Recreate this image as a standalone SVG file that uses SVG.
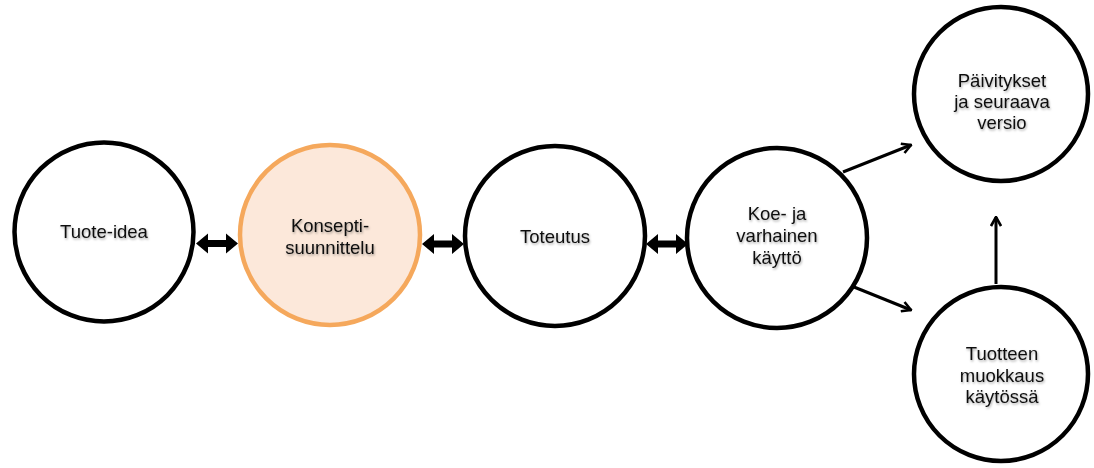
<svg xmlns="http://www.w3.org/2000/svg" width="1094" height="468" viewBox="0 0 1094 468">
<style>
.node{fill:#ffffff;stroke:#000000;stroke-width:4.5}
.hl{fill:#fce8da;stroke:#f5a85c;stroke-width:4.5}
.lbl{font-family:"Liberation Sans",Arial,sans-serif;font-size:18.5px;fill:#111111;text-anchor:middle;filter:url(#ts)}
.conn{stroke:#000000;stroke-width:3;fill:none}
.dbl{fill:#000000}
</style>
<defs>
<filter id="ts" x="-10%" y="-20%" width="120%" height="150%">
<feDropShadow dx="0.8" dy="1.5" stdDeviation="1" flood-color="#000000" flood-opacity="0.35"/>
</filter>
<marker id="ah" viewBox="0 0 12 12" refX="10.5" refY="6" markerWidth="12" markerHeight="12" markerUnits="userSpaceOnUse" orient="auto">
<path d="M1.5,1 L10.5,6 L1.5,11" fill="none" stroke="#000000" stroke-width="2.6" stroke-linejoin="miter"/>
</marker>
<path id="da" d="M0,0 L12,-10 L12,-3.5 L30,-3.5 L30,-10 L42,0 L30,10 L30,3.5 L12,3.5 L12,10 Z"/>
</defs>
<g id="connectors">
<use href="#da" class="dbl" transform="translate(196,243.5)"/>
<use href="#da" class="dbl" transform="translate(422,244)"/>
<use href="#da" class="dbl" transform="translate(646,244)"/>
<line class="conn" x1="843" y1="172" x2="911" y2="145" marker-end="url(#ah)"/>
<line class="conn" x1="854" y1="287" x2="911" y2="310" marker-end="url(#ah)"/>
<line class="conn" x1="996" y1="284" x2="996" y2="217" marker-end="url(#ah)"/>
</g>
<g id="n1">
<circle class="node" cx="104" cy="232" r="89.5"/>
<text class="lbl" x="104" y="238">Tuote-idea</text>
</g>
<g id="n2">
<circle class="hl" cx="330" cy="235" r="90"/>
<text class="lbl" x="330" y="232">Konsepti-</text>
<text class="lbl" x="330" y="253.5">suunnittelu</text>
</g>
<g id="n3">
<circle class="node" cx="555" cy="236" r="90"/>
<text class="lbl" x="555" y="243">Toteutus</text>
</g>
<g id="n4">
<circle class="node" cx="777" cy="238" r="90"/>
<text class="lbl" x="777" y="220">Koe- ja</text>
<text class="lbl" x="777" y="242">varhainen</text>
<text class="lbl" x="777" y="264">käyttö</text>
</g>
<g id="n5">
<circle class="node" cx="1001" cy="94" r="87"/>
<text class="lbl" x="1002" y="87">Päivitykset</text>
<text class="lbl" x="1002" y="108">ja seuraava</text>
<text class="lbl" x="1002" y="129">versio</text>
</g>
<g id="n6">
<circle class="node" cx="1001" cy="374" r="87"/>
<text class="lbl" x="1002" y="360">Tuotteen</text>
<text class="lbl" x="1002" y="382">muokkaus</text>
<text class="lbl" x="1002" y="403">käytössä</text>
</g>
</svg>
